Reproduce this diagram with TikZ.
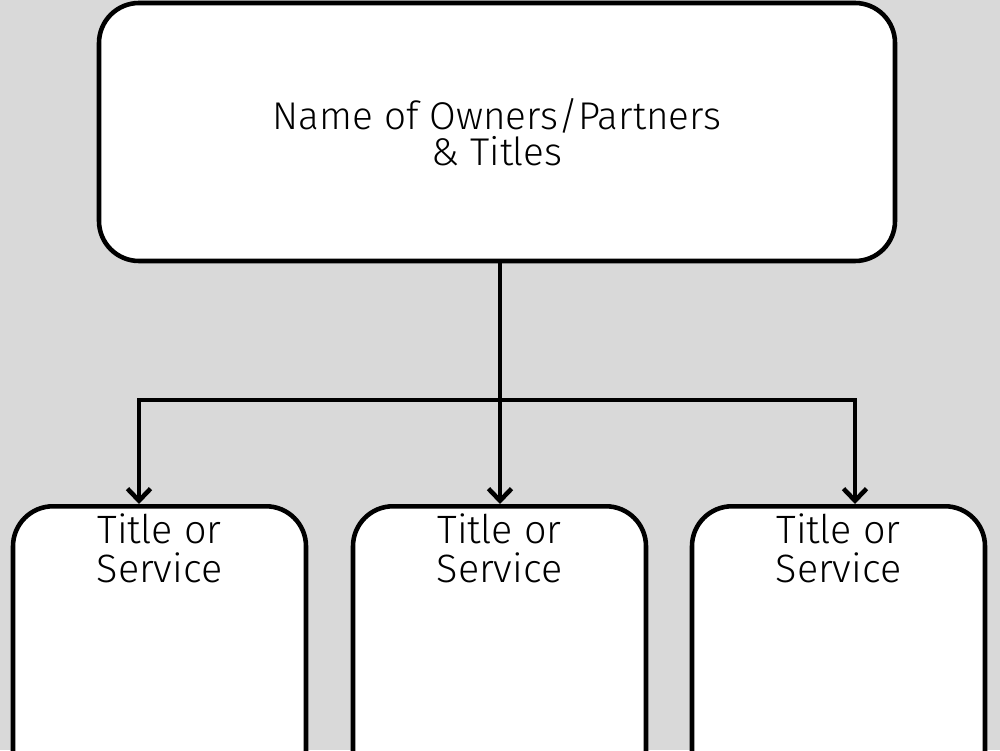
\documentclass[tikz,border=0pt]{standalone}
\usepackage{fontspec}
\setmainfont{Fira Sans Light}
\usetikzlibrary{arrows.meta}
\definecolor{bggray}{HTML}{D9D9D9}

\begin{document}
\begin{tikzpicture}[line width=2.6pt, >={Straight Barb[length=0.24cm,width=0.46cm]},
    ownerbox/.style={draw, fill=white, rounded corners=0.8cm, minimum width=15.92cm,
      minimum height=5.16cm, align=center, font=\fontsize{22}{20.5}\selectfont},
    servicebox/.style={draw, fill=white, rounded corners=0.8cm, anchor=north,
      minimum width=5.86cm, text depth=6cm, inner ysep=0.14cm, align=center,
      font=\fontsize{22.5}{22.2}\selectfont}]
  % background and page size
  \clip (0,0) rectangle (20,15);
  \fill[bggray] (0,0) rectangle (20,15);

  % Owners on top
  \node[ownerbox] (owners) at (9.94,12.36) {Name of Owners/Partners\\\& Titles};

  % Titles or services below
  \node[servicebox] (service1) at (3.19,4.92) {Title or\\Service};
  \node[servicebox] (service2) at (9.99,4.92) {Title or\\Service};
  \node[servicebox] (service3) at (16.77,4.92) {Title or\\Service};

  % Connectors
  \coordinate (split) at (10,7);
  \coordinate (leftdrop) at (2.78,7);
  \coordinate (rightdrop) at (17.1,7);
  \draw (split |- owners.south) -- (split);
  \draw[->] (split) -- (split |- service2.north);
  \draw[<->, line join=miter] (leftdrop |- service1.north) -- (leftdrop) -- (rightdrop) -- (rightdrop |- service3.north);
\end{tikzpicture}
\end{document}
